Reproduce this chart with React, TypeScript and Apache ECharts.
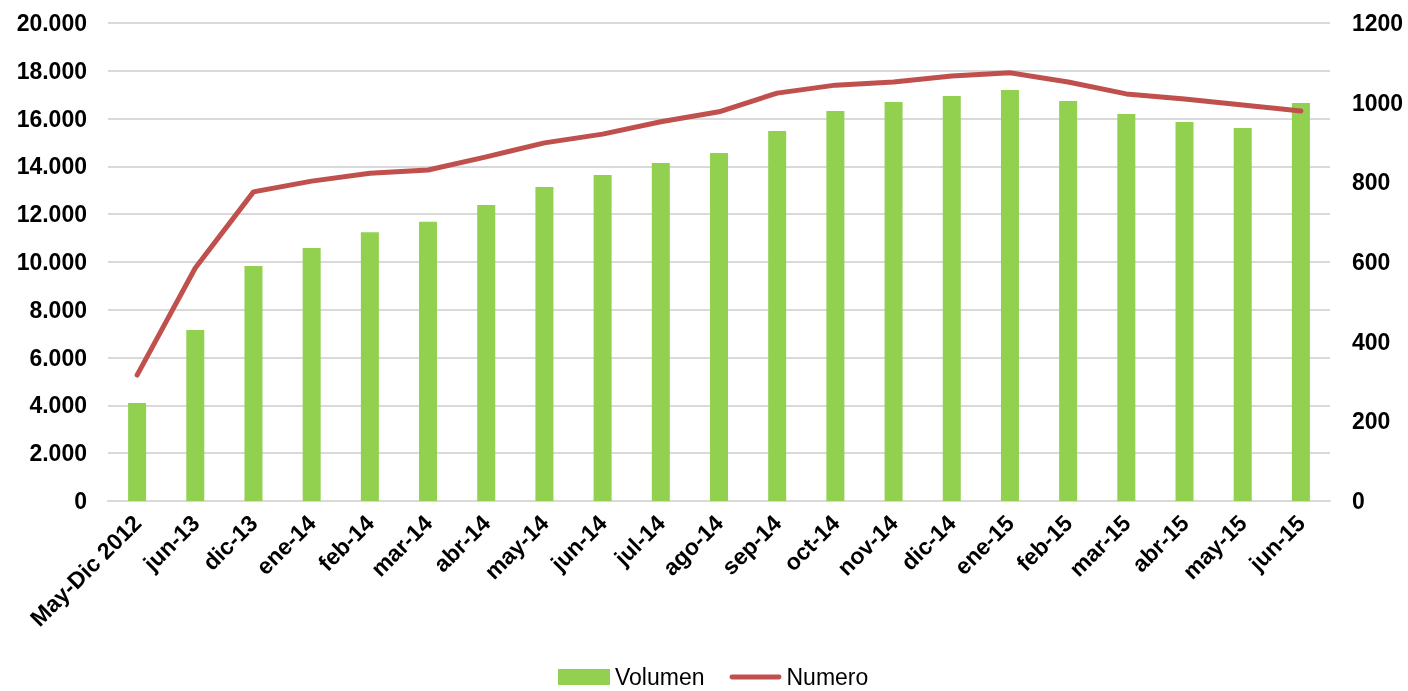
import React, { useEffect, useRef } from "react";
import * as echarts from "echarts";

const categories = [
  "May-Dic 2012", "jun-13", "dic-13", "ene-14", "feb-14", "mar-14", "abr-14",
  "may-14", "jun-14", "jul-14", "ago-14", "sep-14", "oct-14", "nov-14",
  "dic-14", "ene-15", "feb-15", "mar-15", "abr-15", "may-15", "jun-15",
];
const volumen = [
  4100, 7150, 9830, 10590, 11250, 11680, 12380, 13140, 13640, 14140, 14560,
  15480, 16320, 16690, 16950, 17200, 16740, 16190, 15860, 15610, 16650,
];
const numero = [
  316, 585, 776, 803, 823, 831, 864, 899, 921, 952, 977, 1024, 1044, 1052,
  1067, 1075, 1052, 1022, 1009, 994, 979,
];

const fmt = (v: number) => {
  const s = Math.round(v).toString();
  return s.replace(/\B(?=(\d{3})+(?!\d))/g, ".");
};

const FONT = "Liberation Sans, Arial, sans-serif";

export default function App() {
  const ref = useRef<HTMLDivElement>(null);
  useEffect(() => {
    if (!ref.current) return;
    const chart = echarts.init(ref.current, null, { renderer: "svg" });
    chart.setOption({
      animation: false,
      textStyle: { fontFamily: FONT },
      grid: { left: 108, right: 78, top: 23, bottom: 190, containLabel: false },
      legend: {
        top: 660,
        left: 553,
        itemWidth: 52,
        itemHeight: 16,
        itemGap: 25,
        textStyle: { fontSize: 23, lineHeight: 24, color: "#000", fontFamily: FONT },
        data: [
          { name: "Volumen", icon: "rect" },
          { name: "Numero", icon: "path://M2,0 L50,0 A2.5,2.5 0 0 1 50,5 L2,5 A2.5,2.5 0 0 1 2,0 Z" },
        ],
      },
      xAxis: {
        type: "category",
        data: categories,
        axisTick: { show: false },
        axisLine: { lineStyle: { color: "#d9d9d9", width: 2 } },
        axisLabel: {
          rotate: 45,
          interval: 0,
          margin: 18,
          fontSize: 23,
          fontWeight: "bold",
          color: "#000",
        },
      },
      yAxis: [
        {
          type: "value",
          min: 0,
          max: 20000,
          interval: 2000,
          axisLabel: {
            fontSize: 23,
            fontWeight: "bold",
            color: "#000",
            margin: 21,
            formatter: fmt,
          },
          splitLine: { lineStyle: { color: "#d9d9d9", width: 2 } },
          axisLine: { show: false },
          axisTick: { show: false },
        },
        {
          type: "value",
          min: 0,
          max: 1200,
          interval: 200,
          axisLabel: {
            fontSize: 23,
            fontWeight: "bold",
            color: "#000",
            margin: 22,
            formatter: (v: number) => String(v),
          },
          splitLine: { show: false },
          axisLine: { show: false },
          axisTick: { show: false },
        },
      ],
      series: [
        {
          name: "Volumen",
          type: "bar",
          data: volumen,
          barWidth: 18,
          itemStyle: { color: "#92d050" },
          yAxisIndex: 0,
        },
        {
          name: "Numero",
          type: "line",
          data: numero,
          yAxisIndex: 1,
          symbol: "none",
          lineStyle: { color: "#c0504d", width: 5, cap: "round", join: "round" },
          itemStyle: { color: "#c0504d" },
        },
      ],
    });
    return () => chart.dispose();
  }, []);
  return (
    <div
      ref={ref}
      style={{ position: "fixed", left: 0, top: 0, width: 1408, height: 691 }}
    />
  );
}
